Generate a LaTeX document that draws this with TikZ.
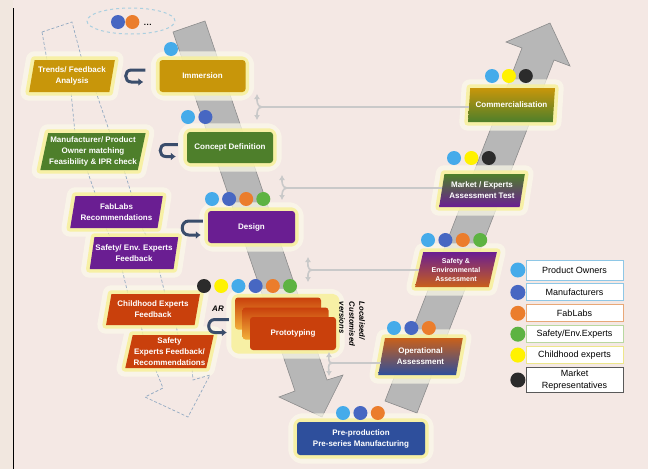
\documentclass[tikz,border=0pt]{standalone}
\usepackage{fontspec}
\setmainfont{Liberation Sans}
\usetikzlibrary{arrows.meta,positioning,calc,shapes.geometric,backgrounds}
\definecolor{Paper}{HTML}{F4E8E4}
\definecolor{Strip}{HTML}{F1E7DF}
\definecolor{Gold}{HTML}{C8960A}
\definecolor{Leaf}{HTML}{4E7F2B}
\definecolor{Plum}{HTML}{6A1E92}
\definecolor{Rust}{HTML}{C9400C}
\definecolor{Sunny}{HTML}{F2B03A}
\definecolor{Navy}{HTML}{2E4F9C}
\definecolor{Amber}{HTML}{C9601A}
\definecolor{Glow}{HTML}{F7F09A}
\definecolor{Halo}{HTML}{FCFAEA}
\definecolor{Shaft}{HTML}{B7B7B7}
\definecolor{ShaftEdge}{HTML}{8C8C8C}
\definecolor{Loop}{HTML}{3A4D6B}
\definecolor{Frame}{HTML}{93AAC2}
\definecolor{Fork}{HTML}{C9C9C9}
\definecolor{Cloud}{HTML}{A9CFE0}
\definecolor{Sky}{HTML}{45ABEA}
\definecolor{Royal}{HTML}{4767C2}
\definecolor{Tang}{HTML}{EB7D2C}
\definecolor{Lime}{HTML}{5DB342}
\definecolor{Lemon}{HTML}{FFF200}
\definecolor{Coal}{HTML}{2B2B2B}
\definecolor{SkyLine}{HTML}{8EC7E6}
\definecolor{TangLine}{HTML}{E8A878}
\definecolor{LimeLine}{HTML}{B8D8A0}
\definecolor{LemonLine}{HTML}{EDE68A}

\begin{document}
\begin{tikzpicture}[x=1pt, y=-1pt,
    stage/.style={rectangle, rounded corners=3pt, minimum width=86pt, minimum height=32pt, inner sep=1pt, align=center, text=white, font=\bfseries\fontsize{8}{11}\selectfont},
    slant/.style={trapezium, trapezium left angle=76, trapezium right angle=104, trapezium stretches=true, minimum width=86pt, minimum height=32pt, inner sep=1pt, align=center, text=white, font=\bfseries\fontsize{8}{11}\selectfont},
    pdot/.style={circle, minimum size=14pt, inner sep=0pt},
    key/.style={draw, fill=white, line width=0.9pt, minimum width=97pt, minimum height=17pt, inner sep=1pt, align=center, font=\fontsize{9}{12}\selectfont},
    uturn/.style={draw=Loop, line width=3pt, -{Latex[length=5pt,width=8pt]}},
    fb/.style={draw=Fork, line width=1.6pt},
    forkarr/.style={fb, -{Latex[length=5pt,width=6pt]}},
    frame/.style={draw=Frame, line width=0.7pt, dash pattern=on 3pt off 2pt},
    haloline/.style={draw=Halo, fill=Halo, line width=17pt, line join=round},
    glowline/.style={draw=Glow, fill=Glow, line width=7pt, line join=round},
    shaft/.style={fill=Shaft, draw=ShaftEdge, line width=0.6pt}
  ]
    \useasboundingbox (0,0) rectangle (648,469);

    % stages down the V
    \node[stage, fill=Gold] (imm) at (202.5,76) {Immersion};
    \node[stage, fill=Leaf, minimum height=31pt] (con) at (230,147.5) {Concept Definition};
    \node[stage, fill=Plum, minimum width=87pt] (des) at (251.5,227) {Design};
    \node[stage, top color=Rust, bottom color=Sunny] (proback) at (278,313.5) {};
    \node[stage, top color=Rust, bottom color=Sunny] (promid) at (285.5,323.5) {};
    \node[stage, fill=Rust, minimum height=33pt] (pro) at (293,333.5) {Prototyping};
    \node[stage, fill=Navy, minimum width=128pt, minimum height=33pt] (pre) at (361,438.5) {Pre-production\\Pre-series Manufacturing};

    % stages up the V
    \node[slant, top color=Amber, bottom color=Navy, minimum width=85pt, minimum height=37pt] (oper) at (420.5,356.5) {Operational\\Assessment};
    \node[slant, top color=Plum, bottom color=Amber, minimum width=82pt, minimum height=35pt, font=\bfseries\fontsize{7}{9}\selectfont] (safeas) at (456,269.5) {Safety \&\\Environmental\\Assessment};
    \node[slant, top color=Leaf, bottom color=Plum, minimum height=33pt] (market) at (482,190.5) {Market / Experts\\Assessment Test};
    \node[slant, top color=Gold, bottom color=Leaf, minimum width=87pt, minimum height=34pt] (comm) at (511.5,105) {Commercialisation};

    % feedback column
    \node[slant, fill=Gold] (trends) at (72,76) {Trends/ Feedback\\Analysis};
    \node[slant, fill=Leaf, minimum width=104pt, minimum height=37pt] (match) at (93,151.5) {Manufacturer/ Product\\Owner matching\\Feasibility \& IPR check};
    \node[slant, fill=Plum, minimum width=93pt] (fablab) at (116.5,212) {FabLabs\\Recommendations};
    \node[slant, fill=Plum] (envfb) at (134,253) {Safety/ Env. Experts\\Feedback};
    \node[slant, fill=Rust, minimum width=94pt, minimum height=31pt] (childfb) at (153,309.5) {Childhood Experts\\Feedback};
    \node[slant, fill=Rust, minimum width=87pt, minimum height=33pt] (safefb) at (169.5,351.5) {Safety\\Experts Feedback/\\Recommendations};

    \begin{scope}[on background layer]
      \fill[Paper] (0,0) rectangle (648,469);
      \fill[Strip] (0,0) rectangle (13,469);
      \draw[black, line width=1.6pt] (13.5,8) -- (13.5,469);
      \path[shaft] (173,32) -- (205,21) -- (327,380) -- (343,375) -- (322,417) -- (279,397) -- (295,391) -- cycle;
      \path[shaft] (385,401) -- (417,413) -- (554,60) -- (570,66) -- (550,23) -- (506,42) -- (522,48) -- cycle;
      \begin{scope}[transparency group, opacity=.7]
        \foreach \n in {imm,con,des,pre}
          \path[haloline, rounded corners=6pt] (\n.north west) rectangle (\n.south east);
        \path[haloline, rounded corners=6pt] (proback.north west) rectangle (pro.south east);
        \foreach \n in {trends,match,fablab,envfb,childfb,safefb,comm,market,safeas,oper}
          \path[haloline] (\n.top left corner) -- (\n.top right corner) -- (\n.bottom right corner) -- (\n.bottom left corner) -- cycle;
      \end{scope}
      % dashed outline behind the feedback column
      \draw[frame] (42,32) -- (72,22) -- (82,60) -- (96,92) -- (110,133) -- (124,170) -- (132,196) -- (142,228) -- (147,237) -- (159,269) -- (165,294) -- (176,325) -- (178,335) -- (192,368) -- (193,380) -- (210,375) -- (188,417) -- (145,397) -- (163,388) -- (155,368) -- (143,335) -- (141,325) -- (128,294) -- (122,269) -- (110,237) -- (106,228) -- (96,196) -- (87,170) -- (75,133) -- (71,92) -- (47,60) -- cycle;
      \begin{scope}[transparency group, opacity=.85]
        \foreach \n in {imm,con,des,pre}
          \path[glowline, rounded corners=4pt] (\n.north west) rectangle (\n.south east);
        \path[glowline, rounded corners=4pt] (proback.north west) rectangle (pro.south east);
        \foreach \n in {trends,match,fablab,envfb,childfb,safefb,comm,market,safeas,oper}
          \path[glowline] (\n.top left corner) -- (\n.top right corner) -- (\n.bottom right corner) -- (\n.bottom left corner) -- cycle;
      \end{scope}
    \end{scope}

    % who takes part
    \node[draw=Cloud, dashed, line width=1pt, ellipse, minimum width=88pt, minimum height=26pt] (pool) at (131,21) {};
    \node[pdot, fill=Royal] (pool1) at (118,22) {};
    \node[pdot, fill=Tang, right=0pt of pool1] (pool2) {};
    \node[font=\bfseries\fontsize{8}{8}\selectfont, inner sep=0pt, right=4pt of pool2, yshift=-3pt] (more) {.\kern0.6pt.\kern0.6pt.};

    \node[pdot, fill=Sky] (imm1) at (171,49) {};

    \node[pdot, fill=Sky] (con1) at (188,117) {};
    \node[pdot, fill=Royal, right=3pt of con1] (con2) {};

    \node[pdot, fill=Sky] (des1) at (212,199) {};
    \node[pdot, fill=Royal, right=2.7pt of des1] (des2) {};
    \node[pdot, fill=Tang, right=2.7pt of des2] (des3) {};
    \node[pdot, fill=Lime, right=2.7pt of des3] (des4) {};

    \node[pdot, fill=Coal] (pro1) at (204,286) {};
    \node[pdot, fill=Lemon, right=2.8pt of pro1] (pro2) {};
    \node[pdot, fill=Sky, right=2.8pt of pro2] (pro3) {};
    \node[pdot, fill=Royal, right=2.8pt of pro3] (pro4) {};
    \node[pdot, fill=Tang, right=2.8pt of pro4] (pro5) {};
    \node[pdot, fill=Lime, right=2.8pt of pro5] (pro6) {};

    \node[pdot, fill=Sky] (pre1) at (343,413) {};
    \node[pdot, fill=Royal, right=3pt of pre1] (pre2) {};
    \node[pdot, fill=Tang, right=3pt of pre2] (pre3) {};

    \node[pdot, fill=Sky] (oper1) at (394,328) {};
    \node[pdot, fill=Royal, right=3pt of oper1] (oper2) {};
    \node[pdot, fill=Tang, right=3pt of oper2] (oper3) {};

    \node[pdot, fill=Sky] (safeas1) at (428,240) {};
    \node[pdot, fill=Royal, right=3pt of safeas1] (safeas2) {};
    \node[pdot, fill=Tang, right=3pt of safeas2] (safeas3) {};
    \node[pdot, fill=Lime, right=3pt of safeas3] (safeas4) {};

    \node[pdot, fill=Sky] (market1) at (454,158) {};
    \node[pdot, fill=Lemon, right=3pt of market1] (market2) {};
    \node[pdot, fill=Coal, right=3pt of market2] (market3) {};

    \node[pdot, fill=Sky] (comm1) at (492,76) {};
    \node[pdot, fill=Lemon, right=2.5pt of comm1] (comm2) {};
    \node[pdot, fill=Coal, right=2.5pt of comm2] (comm3) {};

    % legend
    \node[key, draw=SkyLine, minimum height=20pt] (kowner) at (574.5,270) {Product Owners};
    \node[key, draw=SkyLine, below=3pt of kowner] (kmaker) {Manufacturers};
    \node[key, draw=TangLine, below=3pt of kmaker] (klab) {FabLabs};
    \node[key, draw=LimeLine, below=3pt of klab] (ksafe) {Safety/Env.Experts};
    \node[key, draw=LemonLine, below=3pt of ksafe] (kchild) {Childhood experts};
    \node[key, draw=black!65, minimum height=25pt, below=3pt of kchild] (kmarket) {Market\\Representatives};
    \node[pdot, minimum size=15pt, fill=Sky, left=0pt of kowner] (downer) {};
    \node[pdot, minimum size=15pt, fill=Royal, left=0pt of kmaker] (dmaker) {};
    \node[pdot, minimum size=15pt, fill=Tang, left=0pt of klab] (dlab) {};
    \node[pdot, minimum size=15pt, fill=Lime, left=0pt of ksafe] (dsafe) {};
    \node[pdot, minimum size=15pt, fill=Lemon, left=0pt of kchild] (dchild) {};
    \node[pdot, minimum size=15pt, fill=Coal, left=0pt of kmarket] (dmarket) {};

    % side notes
    \node[font=\bfseries\itshape\fontsize{8}{9}\selectfont] (ar) at (218,309) {AR};
    \node[rotate=-90, align=left, font=\bfseries\itshape\fontsize{7.7}{10}\selectfont] (local) at (352,324) {Localised/\\Customised\\versions};

    % loops back to the feedback column
    \draw[uturn] ($(imm.west)+(-14,-6)$) -- ++(-14,0) to[out=180,in=180,looseness=1.6] ++(0,12) -- ++(12,0);
    \draw[uturn] ($(con.west)+(-9,-3)$) -- ++(-12,0) to[out=180,in=180,looseness=1.6] ++(0,12) -- ++(10,0);
    \draw[uturn] ($(des.west)+(-5,-6)$) -- ++(-14,0) to[out=180,in=180,looseness=1.6] ++(0,14) -- ++(12,0);
    \draw[uturn] ($(pro.west)+(-21,-14)$) -- ++(-14,0) to[out=180,in=180,looseness=1.6] ++(0,13) -- ++(12,0);

    % results fed back across the V
    \coordinate (f1) at (262,107);
    \coordinate (f2) at (287,188);
    \coordinate (f3) at (312,270);
    \coordinate (f4) at (332,363);
    \draw[fb] (f1 -| comm.west) -- (f1);
    \draw[forkarr] (f1) to[out=180,in=270] ++(-5,-13);
    \draw[forkarr] (f1) to[out=180,in=90] ++(-5,13);
    \draw[fb] (f2 -| market.west) -- (f2);
    \draw[forkarr] (f2) to[out=180,in=270] ++(-5,-13);
    \draw[forkarr] (f2) to[out=180,in=90] ++(-5,12);
    \draw[fb] (f3 -| safeas.west) -- (f3);
    \draw[forkarr] (f3) to[out=180,in=270] ++(-4,-13);
    \draw[forkarr] (f3) to[out=180,in=90] ++(-4,12);
    \draw[fb] (f4 -| oper.west) -- (f4);
    \draw[forkarr] (f4) to[out=180,in=270] ++(-3,-11);
    \draw[forkarr] (f4) to[out=180,in=90] ++(-3,13);
\end{tikzpicture}
\end{document}
